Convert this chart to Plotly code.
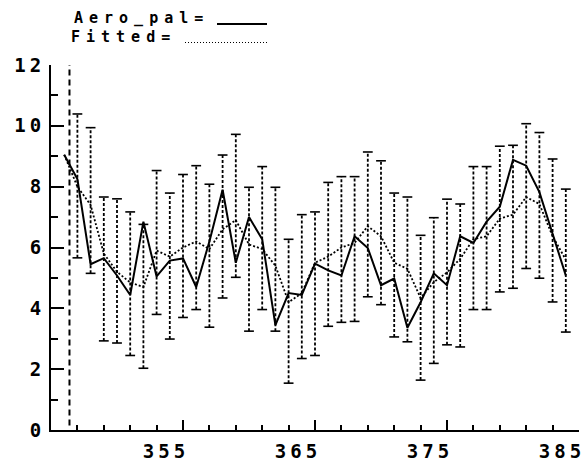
import plotly.graph_objects as go

# ---- data ----
days = list(range(346, 385))
aero_pal = [9.05, 8.25, 5.45, 5.65, 5.08, 4.44, 6.85, 5.05, 5.57, 5.64,
            4.70, 6.20, 7.90, 5.50, 7.00, 6.27, 3.45, 4.50, 4.44, 5.47,
            5.25, 5.08, 6.37, 5.98, 4.76, 4.98, 3.36, 4.20, 5.15, 4.76,
            6.37, 6.15, 6.85, 7.34, 8.88, 8.69, 7.82, 6.43, 5.08]
fitted = [9.05, 8.00, 7.40, 5.80, 5.20, 4.85, 4.70, 5.90, 5.70, 6.00,
          6.20, 5.95, 6.60, 6.90, 6.10, 5.95, 5.40, 4.20, 4.50, 5.50,
          5.70, 6.00, 6.15, 6.70, 6.37, 5.50, 5.30, 4.34, 4.86, 5.18,
          5.63, 6.27, 6.37, 6.95, 7.08, 7.66, 7.43, 6.37, 5.60]
err_days = list(range(347, 385))
err_lo = [5.66, 5.15, 2.93, 2.86, 2.45, 2.03, 3.80, 2.99, 3.70, 3.96,
          3.38, 4.34, 5.02, 3.25, 3.96, 3.25, 1.54, 2.35, 2.45, 3.41,
          3.54, 3.57, 4.38, 4.12, 3.06, 2.90, 1.64, 2.19, 2.80, 2.73,
          3.96, 3.96, 4.54, 4.66, 5.31, 4.99, 4.21, 3.22]
err_hi = [10.39, 9.94, 7.66, 7.60, 7.17, 6.76, 8.53, 7.79, 8.40, 8.69,
          8.08, 9.04, 9.72, 7.98, 8.66, 7.98, 6.27, 7.08, 7.17, 8.14,
          8.33, 8.33, 9.14, 8.85, 7.79, 7.66, 6.40, 6.98, 7.59, 7.43,
          8.66, 8.66, 9.33, 9.36, 10.07, 9.78, 8.91, 7.92]
first_bar_day = 346.4
first_bar_range = [0.15, 12.0]
x_range = [345, 385]
y_range = [0, 12]
x_ticks = [355, 365, 375, 385]
x_labels = ["355", "365", "375", "385"]
y_ticks = [0, 2, 4, 6, 8, 10, 12]
y_labels = ["0", "2", "4", "6", "8", "10", "12"]

FONT = "DejaVu Sans Mono"

fig = go.Figure()

# error bars as dotted vertical segments
ex, ey = [], []
for d, lo, hi in zip(err_days, err_lo, err_hi):
    ex += [d, d, None]
    ey += [lo, hi, None]
fig.add_trace(go.Scatter(x=ex, y=ey, mode="lines",
                         line=dict(color="black", width=1.8, dash="3px,2px"),
                         hoverinfo="skip"))
# caps
fig.add_trace(go.Scatter(x=err_days + err_days, y=err_lo + err_hi, mode="markers",
                         marker=dict(symbol="line-ew", size=7, color="black",
                                     line=dict(color="black", width=1.6)),
                         hoverinfo="skip"))
# long dashed first bar
fig.add_trace(go.Scatter(x=[first_bar_day, first_bar_day], y=first_bar_range,
                         mode="lines",
                         line=dict(color="black", width=2, dash="6px,4px"),
                         hoverinfo="skip"))
# fitted
fig.add_trace(go.Scatter(x=days, y=fitted, mode="lines", name="Fitted",
                         line=dict(color="black", width=1.8, dash="2px,2px")))
# aero_pal
fig.add_trace(go.Scatter(x=days, y=aero_pal, mode="lines", name="Aero_pal",
                         line=dict(color="black", width=2)))

tickfont = dict(family=FONT, size=19, color="black", weight="bold")

fig.update_layout(
    width=586, height=469,
    margin=dict(l=51, r=7, t=65, b=31),
    plot_bgcolor="white", paper_bgcolor="white",
    showlegend=False,
    xaxis=dict(range=x_range, showline=True, linecolor="black", linewidth=2,
               showgrid=False, zeroline=False,
               ticks="inside", ticklen=10, tickwidth=2, tickcolor="black",
               tickmode="array", tickvals=x_ticks, ticktext=x_labels,
               minor=dict(ticks="inside", ticklen=5, tickwidth=2, tickcolor="black",
                          dtick=2, tick0=345, showgrid=False),
               tickfont=tickfont, ticklabelshift=-17, ticklabelstandoff=3),
    yaxis=dict(range=y_range, showline=True, linecolor="black", linewidth=2,
               showgrid=False, zeroline=False,
               ticks="inside", ticklen=13, tickwidth=2, tickcolor="black",
               tickmode="array", tickvals=y_ticks, ticktext=y_labels,
               minor=dict(ticks="inside", ticklen=7, tickwidth=2, tickcolor="black",
                          dtick=1, tick0=0, showgrid=False),
               tickfont=tickfont),
)

# legend-like header
legfont = dict(family=FONT, size=15, color="black", weight="bold")
fig.add_annotation(xref="paper", yref="paper", x=(141 - 51) / 528, y=(438 - 17) / 373,
                   text="Aero_pal=", showarrow=False, xanchor="center", yanchor="middle",
                   font=legfont)
fig.add_annotation(xref="paper", yref="paper", x=(123 - 51) / 528, y=(438 - 36) / 373,
                   text="Fitted=", showarrow=False, xanchor="center", yanchor="middle",
                   font=legfont)
fig.add_shape(type="line", xref="paper", yref="paper",
              x0=(217 - 51) / 528, x1=(267 - 51) / 528,
              y0=(438 - 23) / 373, y1=(438 - 23) / 373,
              line=dict(color="black", width=2))
fig.add_shape(type="line", xref="paper", yref="paper",
              x0=(185 - 51) / 528, x1=(267 - 51) / 528,
              y0=(438 - 42) / 373, y1=(438 - 42) / 373,
              line=dict(color="black", width=1.2, dash="1px,2px"))

post = """
var s=document.createElement('style');
s.innerHTML='.xtick text, .ytick text {letter-spacing:4px;} .annotation-text{letter-spacing:6px;}';
document.head.appendChild(s);
"""
fig.write_html("out.html", post_script=post)
